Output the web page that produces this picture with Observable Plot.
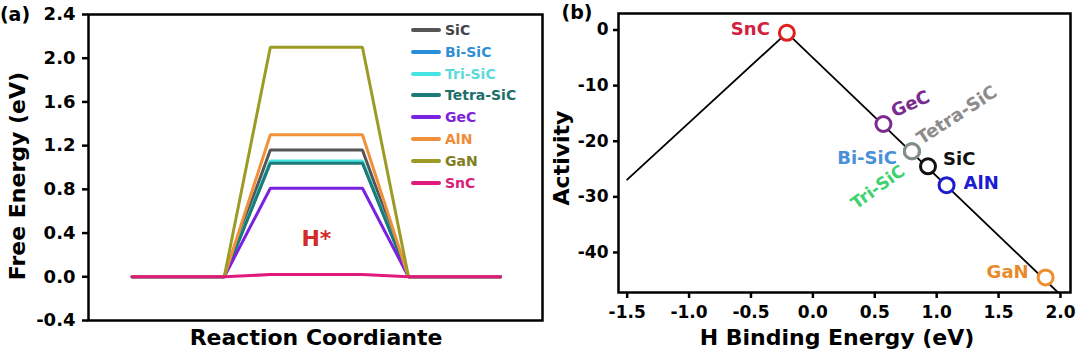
<!DOCTYPE html>
<html>
<head>
<meta charset="utf-8">
<script src="https://cdn.jsdelivr.net/npm/d3@7"></script>
<script src="https://cdn.jsdelivr.net/npm/@observablehq/plot@0.6"></script>
<style>
  html, body { margin: 0; padding: 0; background: white; }
  #wrap { position: relative; width: 1080px; height: 355px; overflow: hidden; font-family: "DejaVu Sans", sans-serif; font-weight: bold; }
  #wrap svg { position: absolute; top: 0; }
  .lbl { position: absolute; white-space: nowrap; line-height: 1; transform: translate(-50%, -50%); }
  .rot { transform: translate(-50%, -50%) rotate(-90deg); }
  .leg { position: absolute; display: flex; align-items: center; height: 22px; line-height: 22px; font-size: 14px; white-space: nowrap; }
  .leg span.seg { display: inline-block; width: 30px; height: 4px; margin-right: 4px; border-radius: 2px; }
</style>
</head>
<body>
<div id="wrap"></div>
<script>
// ---------- Panel (a): free-energy profiles ----------
const seriesNames = ["SiC", "Bi-SiC", "Tri-SiC", "Tetra-SiC", "GeC", "AlN", "GaN", "SnC"];
const reactionSteps = [0, 1, 1.5, 2.5, 3, 4];
const energySiC      = [0, 0, 1.16, 1.16, 0, 0];
const energyBiSiC    = [0, 0, 1.05, 1.05, 0, 0];
const energyTriSiC   = [0, 0, 1.06, 1.06, 0, 0];
const energyTetraSiC = [0, 0, 1.04, 1.04, 0, 0];
const energyGeC      = [0, 0, 0.81, 0.81, 0, 0];
const energyAlN      = [0, 0, 1.30, 1.30, 0, 0];
const energyGaN      = [0, 0, 2.10, 2.10, 0, 0];
const energySnC      = [0, 0, 0.02, 0.02, 0, 0];
const yTicksA = [-0.4, 0.0, 0.4, 0.8, 1.2, 1.6, 2.0, 2.4];
const lineColors = ["#555555", "#2a8fd8", "#48e4e4", "#1d7a76", "#7a22e0", "#f0913a", "#9c9b26", "#e0197d"];
const legendTextColors = ["#444444", "#2f8fd5", "#5cdada", "#1e6e6a", "#7d23d8", "#f08c36", "#7f7f22", "#d8207a"];
const annotation = {text: "H*", x: 2, y: 0.35};

// ---------- Panel (b): volcano plot ----------
const catalysts     = ["SnC", "GeC", "Bi-SiC", "Tri-SiC", "Tetra-SiC", "SiC", "AlN", "GaN"];
const bindingEnergy = [-0.21, 0.57, 0.80, 0.80, 0.80, 0.93, 1.08, 1.88];
const activity      = [-0.5, -16.9, -21.8, -21.8, -21.8, -24.5, -27.9, -44.5];
const volcanoX = [-1.5, -0.21, 1.98];
const volcanoY = [-26.9, -0.5, -47.2];
const xTicksB = [-1.5, -1.0, -0.5, 0.0, 0.5, 1.0, 1.5, 2.0];
const yTicksB = [0, -10, -20, -30, -40];
const circleColors = ["#e0201f", "#7b2a8e", "#3b8fe0", "#3dd26e", "#8a8a8a", "#111111", "#1c1cd0", "#ee8e2c"];
const labelColors  = ["#d42040", "#7b2a8e", "#4a90d9", "#3dd26e", "#8c8c8c", "#111111", "#1c1cd0", "#e88a2a"];
// label placement (pixel offsets from each circle)
const labelStyle = {
  "SnC":       {dx: -17, dy: -4,  rotate: 0,   anchor: "end"},
  "GeC":       {dx: 27,  dy: -20, rotate: -24, anchor: "middle"},
  "Bi-SiC":    {dx: -15, dy: 7,   rotate: 0,   anchor: "end"},
  "Tri-SiC":   {dx: -34, dy: 36,  rotate: -36, anchor: "middle", size: 17},
  "Tetra-SiC": {dx: 45,  dy: -36, rotate: -33, anchor: "middle"},
  "SiC":       {dx: 15,  dy: -7,  rotate: 0,   anchor: "start"},
  "AlN":       {dx: 17,  dy: -2,  rotate: 0,   anchor: "start"},
  "GaN":       {dx: -17, dy: -5,  rotate: 0,   anchor: "end"}
};

const wrap = document.getElementById("wrap");
const font = "DejaVu Sans";

// Build tidy rows for panel (a)
const energyBySeries = [energySiC, energyBiSiC, energyTriSiC, energyTetraSiC, energyGeC, energyAlN, energyGaN, energySnC];
const profileRows = [];
seriesNames.forEach((s, i) => {
  reactionSteps.forEach((x, j) => profileRows.push({series: s, x, energy: energyBySeries[i][j]}));
});

const plotA = Plot.plot({
  width: 545, height: 355,
  marginLeft: 88, marginRight: 3, marginTop: 14, marginBottom: 35,
  style: {background: "transparent", fontFamily: font, fontSize: "18px", fontWeight: "bold", color: "black", overflow: "visible"},
  x: {domain: [-0.474, 4.455], axis: null},
  y: {domain: [-0.4, 2.4]},
  color: {domain: seriesNames, range: lineColors},
  marks: [
    Plot.line(profileRows, {x: "x", y: "energy", z: "series", stroke: "series", strokeWidth: 3, strokeLinejoin: "miter"}),
    Plot.text([annotation], {x: "x", y: "y", text: "text", fill: "#d42a2a", fontSize: 22, fontWeight: "bold"}),
    Plot.axisY({ticks: yTicksA, tickFormat: d => d.toFixed(1), tickSize: 6, tickPadding: 7, strokeWidth: 2.5, label: null, fontSize: 18, fontWeight: "bold", fill: "black"}),
    Plot.frame({stroke: "black", strokeWidth: 2.5})
  ]
});
plotA.style.left = "0px";
wrap.appendChild(plotA);

const points = catalysts.map((c, i) => ({name: c, x: bindingEnergy[i], y: activity[i], stroke: circleColors[i], label: labelColors[i]}));
const volcano = volcanoX.map((x, i) => ({x, y: volcanoY[i]}));
const labelMarks = points.map(p => {
  const st = labelStyle[p.name];
  return Plot.text([p], {x: "x", y: "y", text: "name", dx: st.dx, dy: st.dy, rotate: st.rotate,
    textAnchor: st.anchor, fill: p.label, fontSize: st.size || 18, fontWeight: "bold"});
});

const plotB = Plot.plot({
  width: 540, height: 355,
  marginLeft: 78, marginRight: 10, marginTop: 13, marginBottom: 63,
  style: {background: "transparent", fontFamily: font, fontSize: "17px", fontWeight: "bold", color: "black", overflow: "visible"},
  x: {domain: [-1.57, 2.081]},
  y: {domain: [-47.2, 2.97]},
  color: {type: "identity"},
  marks: [
    Plot.line(volcano, {x: "x", y: "y", stroke: "black", strokeWidth: 1.8, clip: true}),
    ...labelMarks,
    Plot.dot(points, {x: "x", y: "y", r: 7.5, stroke: "stroke", fill: "white", strokeWidth: 3}),
    Plot.axisX({ticks: xTicksB, tickFormat: d => d.toFixed(1), tickSize: 6, tickPadding: 7, strokeWidth: 2.5, label: null, fontSize: 17, fontWeight: "bold", fill: "black"}),
    Plot.axisY({ticks: yTicksB, tickFormat: d => String(d), tickSize: 5, tickPadding: 5, strokeWidth: 2.5, label: null, fontSize: 17, fontWeight: "bold", fill: "black"}),
    Plot.frame({stroke: "black", strokeWidth: 2.5})
  ]
});
plotB.style.left = "540px";
wrap.appendChild(plotB);

// Legend for panel (a)
const legendRowY0 = 29.9, legendRowStep = 21.8;
seriesNames.forEach((s, i) => {
  const row = document.createElement("div");
  row.className = "leg";
  row.style.left = "411px";
  row.style.top = (legendRowY0 + i * legendRowStep - 11) + "px";
  row.style.color = legendTextColors[i];
  const seg = document.createElement("span");
  seg.className = "seg";
  seg.style.background = lineColors[i];
  row.appendChild(seg);
  row.appendChild(document.createTextNode(s));
  wrap.appendChild(row);
});

// Titles / axis labels
function addLabel(text, x, y, size, rotate) {
  const d = document.createElement("div");
  d.className = "lbl" + (rotate ? " rot" : "");
  d.style.left = x + "px";
  d.style.top = y + "px";
  d.style.fontSize = size + "px";
  d.textContent = text;
  wrap.appendChild(d);
}
addLabel("(a)", 15, 14, 19, false);
addLabel("(b)", 577, 12, 19, false);
addLabel("Free Energy (eV)", 18, 176, 22, true);
addLabel("Activity", 562, 158, 22, true);
addLabel("Reaction Coordiante", 316, 338, 22, false);
addLabel("H Binding Energy (eV)", 837, 338, 22, false);
</script>
</body>
</html>
